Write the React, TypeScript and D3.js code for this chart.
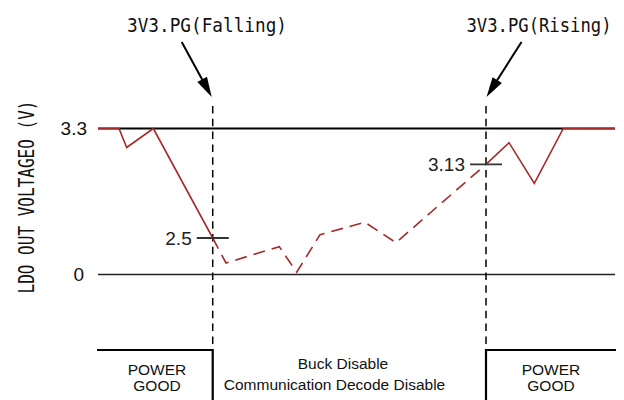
import React from 'react';
import * as d3 from 'd3';

// ---- Data (schematic units) ----
const TIME = [0, 4.06, 5.55, 10.7, 22.19, 24.76, 35.07, 38.43, 42.94, 51.64, 57.64, 75.05, 79.5, 84.39, 90.0, 100];
const VOLT = [3.3, 3.3, 2.87, 3.3, 0.825, 0.26, 0.63, 0.05, 0.9, 1.18, 0.72, 2.49, 2.98, 2.06, 3.3, 3.3];
const PG_FALL_T = 22.19;
const PG_RISE_T = 75.05;
const Y_TICKS = [3.3, 0];
const Y_TICK_LABELS = ['3.3', '0'];
const MARKER_T = [22.19, 75.05];
const MARKER_V = [0.825, 2.49];
const MARKER_LABELS = ['2.5', '3.13'];
const PG_LABELS = ['3V3.PG(Falling)', '3V3.PG(Rising)'];
const STATE_TOP = ['POWER', 'Buck Disable', 'POWER'];
const STATE_BOTTOM = ['GOOD', 'Communication Decode Disable', 'GOOD'];
const Y_TITLE = 'LDO OUT VOLTAGEO (V)';

const W = 624;
const H = 400;
const RED = '#a52a2a';
const SANS = '"Liberation Sans", Arial, sans-serif';
const MONO = '"DejaVu Sans Mono", monospace';

export default function App() {
  const x = d3.scaleLinear().domain([0, 100]).range([98, 615]);
  const y = d3.scaleLinear().domain([0, 3.3]).range([274.5, 128.5]);

  const pts = TIME.map((t, i) => ({ t, v: VOLT[i] }));
  const line = d3.line<{ t: number; v: number }>().x((d) => x(d.t)).y((d) => y(d.v));
  const before = pts.filter((p) => p.t <= PG_FALL_T);
  const during = pts.filter((p) => p.t >= PG_FALL_T && p.t <= PG_RISE_T);
  const after = pts.filter((p) => p.t >= PG_RISE_T);

  const xf = x(PG_FALL_T);
  const xr = x(PG_RISE_T);

  const arrow = (tipX: number, tipY: number, tailX: number, tailY: number) => {
    const dx = tipX - tailX;
    const dy = tipY - tailY;
    const len = Math.sqrt(dx * dx + dy * dy);
    const ux = dx / len;
    const uy = dy / len;
    const hl = 20;
    const hw = 5.5;
    const bx = tipX - ux * hl;
    const by = tipY - uy * hl;
    const p1 = [bx - uy * hw, by + ux * hw];
    const p2 = [bx + uy * hw, by - ux * hw];
    return (
      <g>
        <line x1={tailX} y1={tailY} x2={bx + ux * 2} y2={by + uy * 2} stroke="#000" strokeWidth={2} />
        <polygon points={`${tipX},${tipY} ${p1[0]},${p1[1]} ${p2[0]},${p2[1]}`} fill="#000" />
      </g>
    );
  };

  const tickLabelX = [87, 84];

  return (
    <svg
      width={W}
      height={H}
      viewBox={`0 0 ${W} ${H}`}
      style={{ position: 'absolute', left: 0, top: 0, display: 'block', background: '#fff' }}
    >
      <rect x={0} y={0} width={W} height={H} fill="#fff" />

      {/* Y title */}
      <text
        transform={`translate(26,197) rotate(-90)`}
        textAnchor="middle"
        dominantBaseline="central"
        fontFamily={MONO}
        fontSize={22}
        textLength={193}
        lengthAdjust="spacingAndGlyphs"
        fill="#111"
      >
        {Y_TITLE}
      </text>

      {/* Y tick labels */}
      {Y_TICKS.map((v, i) => (
        <text
          key={i}
          x={tickLabelX[i]}
          y={y(v) + 6.5}
          textAnchor="end"
          fontFamily={SANS}
          fontSize={19}
          fill="#111"
        >
          {Y_TICK_LABELS[i]}
        </text>
      ))}

      {/* reference lines */}
      <line x1={x(0)} x2={x(100)} y1={y(3.3)} y2={y(3.3)} stroke="#000" strokeWidth={2.2} />
      <line x1={x(0)} x2={x(100)} y1={y(0)} y2={y(0)} stroke="#222" strokeWidth={1.4} />

      {/* PG dashed verticals */}
      {[xf, xr].map((xx, i) => (
        <line key={i} x1={xx} x2={xx} y1={106} y2={345} stroke="#000" strokeWidth={1.5} strokeDasharray="7.5 5.3" />
      ))}

      {/* trace */}
      <path d={line(before) || ''} fill="none" stroke={RED} strokeWidth={1.6} />
      <path d={line(during) || ''} fill="none" stroke={RED} strokeWidth={1.6} strokeDasharray="12 7" />
      <path d={line(after) || ''} fill="none" stroke={RED} strokeWidth={1.6} />

      {/* threshold markers */}
      {MARKER_T.map((t, i) => (
        <g key={i}>
          <line x1={x(t) - 16} x2={x(t) + 16} y1={y(MARKER_V[i])} y2={y(MARKER_V[i])} stroke="#333" strokeWidth={1.8} />
          <text
            x={x(t) - 21}
            y={y(MARKER_V[i]) + 6.8}
            textAnchor="end"
            fontFamily={SANS}
            fontSize={19}
            fill="#222"
          >
            {MARKER_LABELS[i]}
          </text>
        </g>
      ))}

      {/* PG annotations */}
      <text x={207} y={32} textAnchor="middle" fontFamily={MONO} fontSize={20} textLength={160} lengthAdjust="spacingAndGlyphs" fill="#111">
        {PG_LABELS[0]}
      </text>
      <text x={539} y={32} textAnchor="middle" fontFamily={MONO} fontSize={19.5} textLength={145} lengthAdjust="spacingAndGlyphs" fill="#111">
        {PG_LABELS[1]}
      </text>
      {arrow(xf - 1, 97, xf - 31, 42)}
      {arrow(xr + 0.5, 97, xr + 35.5, 42)}

      {/* state steps */}
      <path d={`M${x(0) - 1},350 H${xf} V400`} fill="none" stroke="#000" strokeWidth={2.2} />
      <path d={`M${xr},400 V350 H${x(100) + 1}`} fill="none" stroke="#000" strokeWidth={2.2} />

      {/* state labels */}
      <text x={157} y={375} textAnchor="middle" fontFamily={SANS} fontSize={15.5} fill="#111">{STATE_TOP[0]}</text>
      <text x={157} y={391} textAnchor="middle" fontFamily={SANS} fontSize={15.5} fill="#111">{STATE_BOTTOM[0]}</text>
      <text x={343} y={368.5} textAnchor="middle" fontFamily={SANS} fontSize={15.5} fill="#111">{STATE_TOP[1]}</text>
      <text x={334.5} y={390} textAnchor="middle" fontFamily={SANS} fontSize={15.5} fill="#111">{STATE_BOTTOM[1]}</text>
      <text x={551} y={375} textAnchor="middle" fontFamily={SANS} fontSize={15.5} fill="#111">{STATE_TOP[2]}</text>
      <text x={551} y={391} textAnchor="middle" fontFamily={SANS} fontSize={15.5} fill="#111">{STATE_BOTTOM[2]}</text>
    </svg>
  );
}
